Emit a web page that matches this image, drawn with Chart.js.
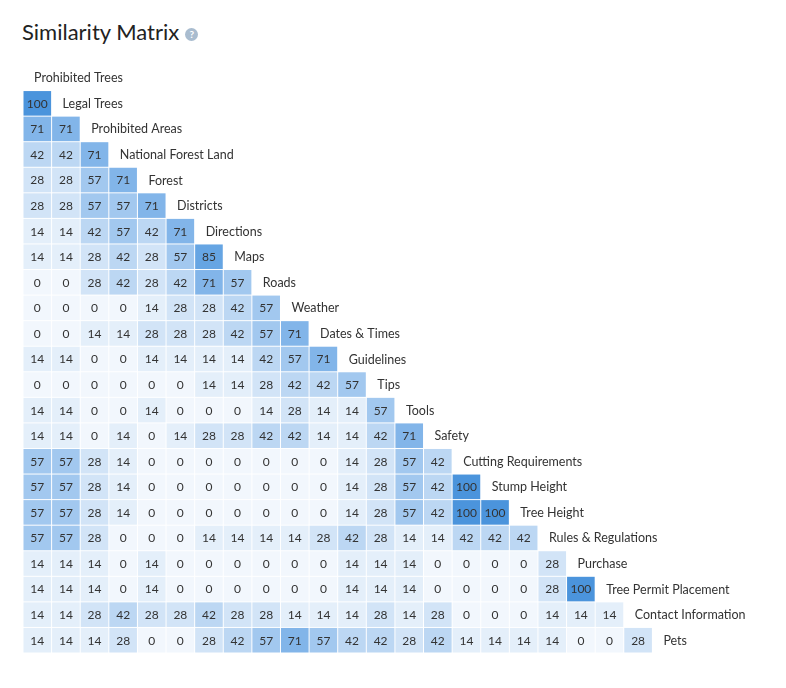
<!DOCTYPE html>
<html>
<head>
<meta charset="utf-8">
<script src="https://cdn.jsdelivr.net/npm/chart.js@4"></script>
<style>
  body { margin: 0; background: #fff; font-family: Lato, "Open Sans", sans-serif; }
  #title { position: absolute; left: 22px; top: 18px; font-size: 22px; color: #222; }
  #help { display: inline-block; width: 13px; height: 13px; border-radius: 50%; background: #a9bccf;
          color: #fff; font-size: 10px; line-height: 13px; text-align: center; vertical-align: middle; margin-left: 6px; font-weight: bold; }
  #wrap { position: absolute; left: 0; top: 0; width: 786px; height: 688px; }
</style>
</head>
<body>
<div id="title">Similarity Matrix<span id="help">?</span></div>
<div id="wrap"><canvas id="c"></canvas></div>
<script>
const topics = ["Prohibited Trees", "Legal Trees", "Prohibited Areas", "National Forest Land", "Forest",
  "Districts", "Directions", "Maps", "Roads", "Weather", "Dates & Times", "Guidelines", "Tips", "Tools",
  "Safety", "Cutting Requirements", "Stump Height", "Tree Height", "Rules & Regulations", "Purchase",
  "Tree Permit Placement", "Contact Information", "Pets"];

const scores = [
  [],
  [100],
  [71, 71],
  [42, 42, 71],
  [28, 28, 57, 71],
  [28, 28, 57, 57, 71],
  [14, 14, 42, 57, 42, 71],
  [14, 14, 28, 42, 28, 57, 85],
  [0, 0, 28, 42, 28, 42, 71, 57],
  [0, 0, 0, 0, 14, 28, 28, 42, 57],
  [0, 0, 14, 14, 28, 28, 28, 42, 57, 71],
  [14, 14, 0, 0, 14, 14, 14, 14, 42, 57, 71],
  [0, 0, 0, 0, 0, 0, 14, 14, 28, 42, 42, 57],
  [14, 14, 0, 0, 14, 0, 0, 0, 14, 28, 14, 14, 57],
  [14, 14, 0, 14, 0, 14, 28, 28, 42, 42, 14, 14, 42, 71],
  [57, 57, 28, 14, 0, 0, 0, 0, 0, 0, 0, 14, 28, 57, 42],
  [57, 57, 28, 14, 0, 0, 0, 0, 0, 0, 0, 14, 28, 57, 42, 100],
  [57, 57, 28, 14, 0, 0, 0, 0, 0, 0, 0, 14, 28, 57, 42, 100, 100],
  [57, 57, 28, 0, 0, 0, 14, 14, 14, 14, 28, 42, 28, 14, 14, 42, 42, 42],
  [14, 14, 14, 0, 14, 0, 0, 0, 0, 0, 0, 14, 14, 14, 0, 0, 0, 0, 28],
  [14, 14, 14, 0, 14, 0, 0, 0, 0, 0, 0, 14, 14, 14, 0, 0, 0, 0, 28, 100],
  [14, 14, 28, 42, 28, 28, 42, 28, 28, 14, 14, 14, 28, 14, 28, 0, 0, 0, 14, 14, 14],
  [14, 14, 14, 28, 0, 0, 28, 42, 57, 71, 57, 42, 42, 28, 42, 14, 14, 14, 14, 0, 0, 28]
];

function cellColor(v) {
  if (v >= 100) return "#4b94dc";
  if (v >= 85) return "#66a5e3";
  if (v >= 71) return "#82b5e9";
  if (v >= 57) return "#a2c8ef";
  if (v >= 42) return "#bcd7f3";
  if (v >= 28) return "#d2e4f7";
  if (v >= 14) return "#e4effa";
  return "#f2f7fd";
}

const points = [];
scores.forEach((row, r) => row.forEach((v, c) => points.push({ x: c, y: r, v })));

const matrixPlugin = {
  id: "matrix",
  afterDatasetsDraw(chart) {
    const { ctx, scales: { x, y } } = chart;
    const w = Math.abs(x.getPixelForValue(1) - x.getPixelForValue(0));
    const h = Math.abs(y.getPixelForValue(1) - y.getPixelForValue(0));
    ctx.save();
    ctx.textBaseline = "middle";
    points.forEach(p => {
      const cx = x.getPixelForValue(p.x), cy = y.getPixelForValue(p.y);
      ctx.fillStyle = cellColor(p.v);
      ctx.fillRect(cx - w / 2 + 0.5, cy - h / 2 + 0.5, w - 1, h - 1);
      ctx.fillStyle = "#333";
      ctx.font = "12px Lato, 'Open Sans', sans-serif";
      ctx.textAlign = "center";
      ctx.fillText(String(p.v), cx, cy + 0.5);
    });
    ctx.font = "12.5px Lato, 'Open Sans', sans-serif";
    ctx.textAlign = "left";
    ctx.fillStyle = "#333";
    topics.forEach((t, i) => {
      ctx.fillText(t, x.getPixelForValue(i) - w / 2 + 11, y.getPixelForValue(i) + 0.5);
    });
    ctx.restore();
  }
};

new Chart(document.getElementById("c"), {
  type: "scatter",
  data: { datasets: [{ data: points, pointRadius: 0, pointHoverRadius: 0 }] },
  options: {
    responsive: true,
    maintainAspectRatio: false,
    animation: false,
    layout: { padding: { left: 23, top: 65, right: 105, bottom: 35 } },
    plugins: { legend: { display: false }, tooltip: { enabled: false } },
    scales: {
      x: { type: "linear", min: -0.5, max: 22.5, display: false },
      y: { type: "linear", min: -0.5, max: 22.5, reverse: true, display: false }
    }
  },
  plugins: [matrixPlugin]
});
</script>
</body>
</html>
